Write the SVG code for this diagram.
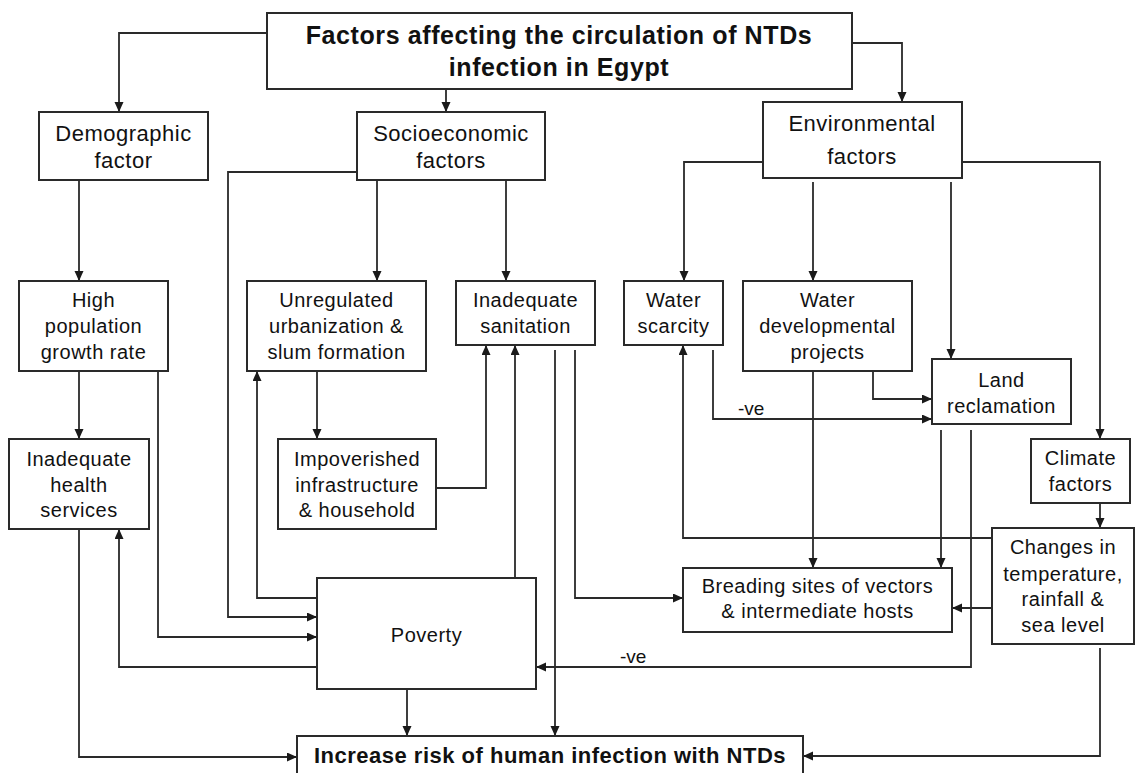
<svg xmlns="http://www.w3.org/2000/svg" width="1136" height="773" viewBox="0 0 1136 773">
<style>
.box{fill:#fff;stroke:#2a2a2a;stroke-width:2}
.t{font-family:"Liberation Sans",Arial,sans-serif;font-size:20px;fill:#111;text-anchor:middle;letter-spacing:0.5px}
.h{font-size:22px}
.b{font-weight:bold}
.c{fill:none;stroke:#2a2a2a;stroke-width:1.8}
.a{marker-end:url(#ah)}
.lbl{font-family:"Liberation Sans",Arial,sans-serif;font-size:19px;fill:#111}
</style>
<defs>
<marker id="ah" markerUnits="userSpaceOnUse" markerWidth="11" markerHeight="10" refX="10" refY="4.5" orient="auto">
<path d="M0,0 L10,4.5 L0,9 z" fill="#1a1a1a"/>
</marker>
</defs>
<rect width="1136" height="773" fill="#fff"/>
<g id="connectors">
<path class="c a" d="M267,33 H119 V112"/>
<path class="c a" d="M446,89 V112"/>
<path class="c a" d="M852,43 H902 V102"/>
<path class="c a" d="M79,180 V281"/>
<path class="c a" d="M79,371 V439"/>
<path class="c a" d="M158,371 V637 H317"/>
<path class="c a" d="M79,529 V757 H297"/>
<path class="c a" d="M317,667 H119 V529"/>
<path class="c a" d="M357,172 H228 V617 H317"/>
<path class="c a" d="M317,598 H257 V371"/>
<path class="c a" d="M377,180 V281"/>
<path class="c a" d="M506,180 V281"/>
<path class="c a" d="M317,371 V439"/>
<path class="c a" d="M436,488 H486 V345"/>
<path class="c a" d="M515,578 V345"/>
<path class="c a" d="M555,350 V736"/>
<path class="c a" d="M575,350 V598 H683"/>
<path class="c a" d="M763,162 H684 V281"/>
<path class="c a" d="M813,182 V281"/>
<path class="c a" d="M951,182 V359"/>
<path class="c a" d="M962,162 H1100 V439"/>
<path class="c a" d="M713,350 V419 H932"/>
<path class="c a" d="M873,371 V399 H932"/>
<path class="c a" d="M813,371 V568"/>
<path class="c a" d="M941,430 V568"/>
<path class="c a" d="M971,430 V667 H536"/>
<path class="c a" d="M1100,503 V528"/>
<path class="c a" d="M992,608 H952"/>
<path class="c a" d="M992,538 H683 V345"/>
<path class="c a" d="M1100,648 V756 H803"/>
<path class="c a" d="M407,689 V736"/>
<text class="lbl" x="738" y="415">-ve</text>
<text class="lbl" x="620" y="663">-ve</text>
</g>
<g id="title">
<rect class="box" x="267" y="13" width="585" height="76"/>
<text class="t b" style="font-size:25px;letter-spacing:0.6px" x="559" y="44">Factors affecting the circulation of NTDs</text>
<text class="t b" style="font-size:25px;letter-spacing:0.6px" x="559" y="76">infection in Egypt</text>
</g>
<g id="demographic">
<rect class="box" x="39" y="112" width="169" height="68"/>
<text class="t h" x="123.5" y="141">Demographic</text>
<text class="t h" x="123.5" y="168">factor</text>
</g>
<g id="socioeconomic">
<rect class="box" x="357" y="112" width="188" height="68"/>
<text class="t h" x="451" y="141">Socioeconomic</text>
<text class="t h" x="451" y="168">factors</text>
</g>
<g id="environmental">
<rect class="box" x="763" y="102" width="199" height="76"/>
<text class="t h" x="862" y="131">Environmental</text>
<text class="t h" x="862" y="164">factors</text>
</g>
<g id="high-population">
<rect class="box" x="19" y="281" width="149" height="90"/>
<text class="t" x="93.5" y="307">High</text>
<text class="t" x="93.5" y="333">population</text>
<text class="t" x="93.5" y="359">growth rate</text>
</g>
<g id="health-services">
<rect class="box" x="9" y="439" width="140" height="90"/>
<text class="t" x="79" y="466">Inadequate</text>
<text class="t" x="79" y="492">health</text>
<text class="t" x="79" y="517">services</text>
</g>
<g id="urbanization">
<rect class="box" x="247" y="281" width="179" height="90"/>
<text class="t" x="336.5" y="307">Unregulated</text>
<text class="t" x="336.5" y="333">urbanization &amp;</text>
<text class="t" x="336.5" y="359">slum formation</text>
</g>
<g id="impoverished">
<rect class="box" x="278" y="439" width="158" height="90"/>
<text class="t" x="357" y="466">Impoverished</text>
<text class="t" x="357" y="492">infrastructure</text>
<text class="t" x="357" y="517">&amp; household</text>
</g>
<g id="sanitation">
<rect class="box" x="456" y="281" width="139" height="64"/>
<text class="t" x="525.5" y="307">Inadequate</text>
<text class="t" x="525.5" y="333">sanitation</text>
</g>
<g id="water-scarcity">
<rect class="box" x="624" y="281" width="99" height="64"/>
<text class="t" x="673.5" y="307">Water</text>
<text class="t" x="673.5" y="333">scarcity</text>
</g>
<g id="water-projects">
<rect class="box" x="743" y="281" width="169" height="90"/>
<text class="t" x="827.5" y="307">Water</text>
<text class="t" x="827.5" y="333">developmental</text>
<text class="t" x="827.5" y="359">projects</text>
</g>
<g id="land-reclamation">
<rect class="box" x="932" y="359" width="139" height="65"/>
<text class="t" x="1001.5" y="387">Land</text>
<text class="t" x="1001.5" y="413">reclamation</text>
</g>
<g id="climate">
<rect class="box" x="1031" y="439" width="99" height="64"/>
<text class="t" x="1080.5" y="465">Climate</text>
<text class="t" x="1080.5" y="491">factors</text>
</g>
<g id="changes">
<rect class="box" x="992" y="528" width="142" height="116"/>
<text class="t" x="1063" y="554">Changes in</text>
<text class="t" x="1063" y="581">temperature,</text>
<text class="t" x="1063" y="606">rainfall &amp;</text>
<text class="t" x="1063" y="632">sea level</text>
</g>
<g id="breading">
<rect class="box" x="683" y="568" width="269" height="64"/>
<text class="t" x="817.5" y="593">Breading sites of vectors</text>
<text class="t" x="817.5" y="618">&amp; intermediate hosts</text>
</g>
<g id="poverty">
<rect class="box" x="317" y="578" width="219" height="111"/>
<text class="t" x="426.5" y="642">Poverty</text>
</g>
<g id="increase-risk">
<rect class="box" x="297" y="736" width="506" height="50"/>
<text class="t b" style="font-size:22px;letter-spacing:0.5px" x="550" y="763">Increase risk of human infection with NTDs</text>
</g>
</svg>
